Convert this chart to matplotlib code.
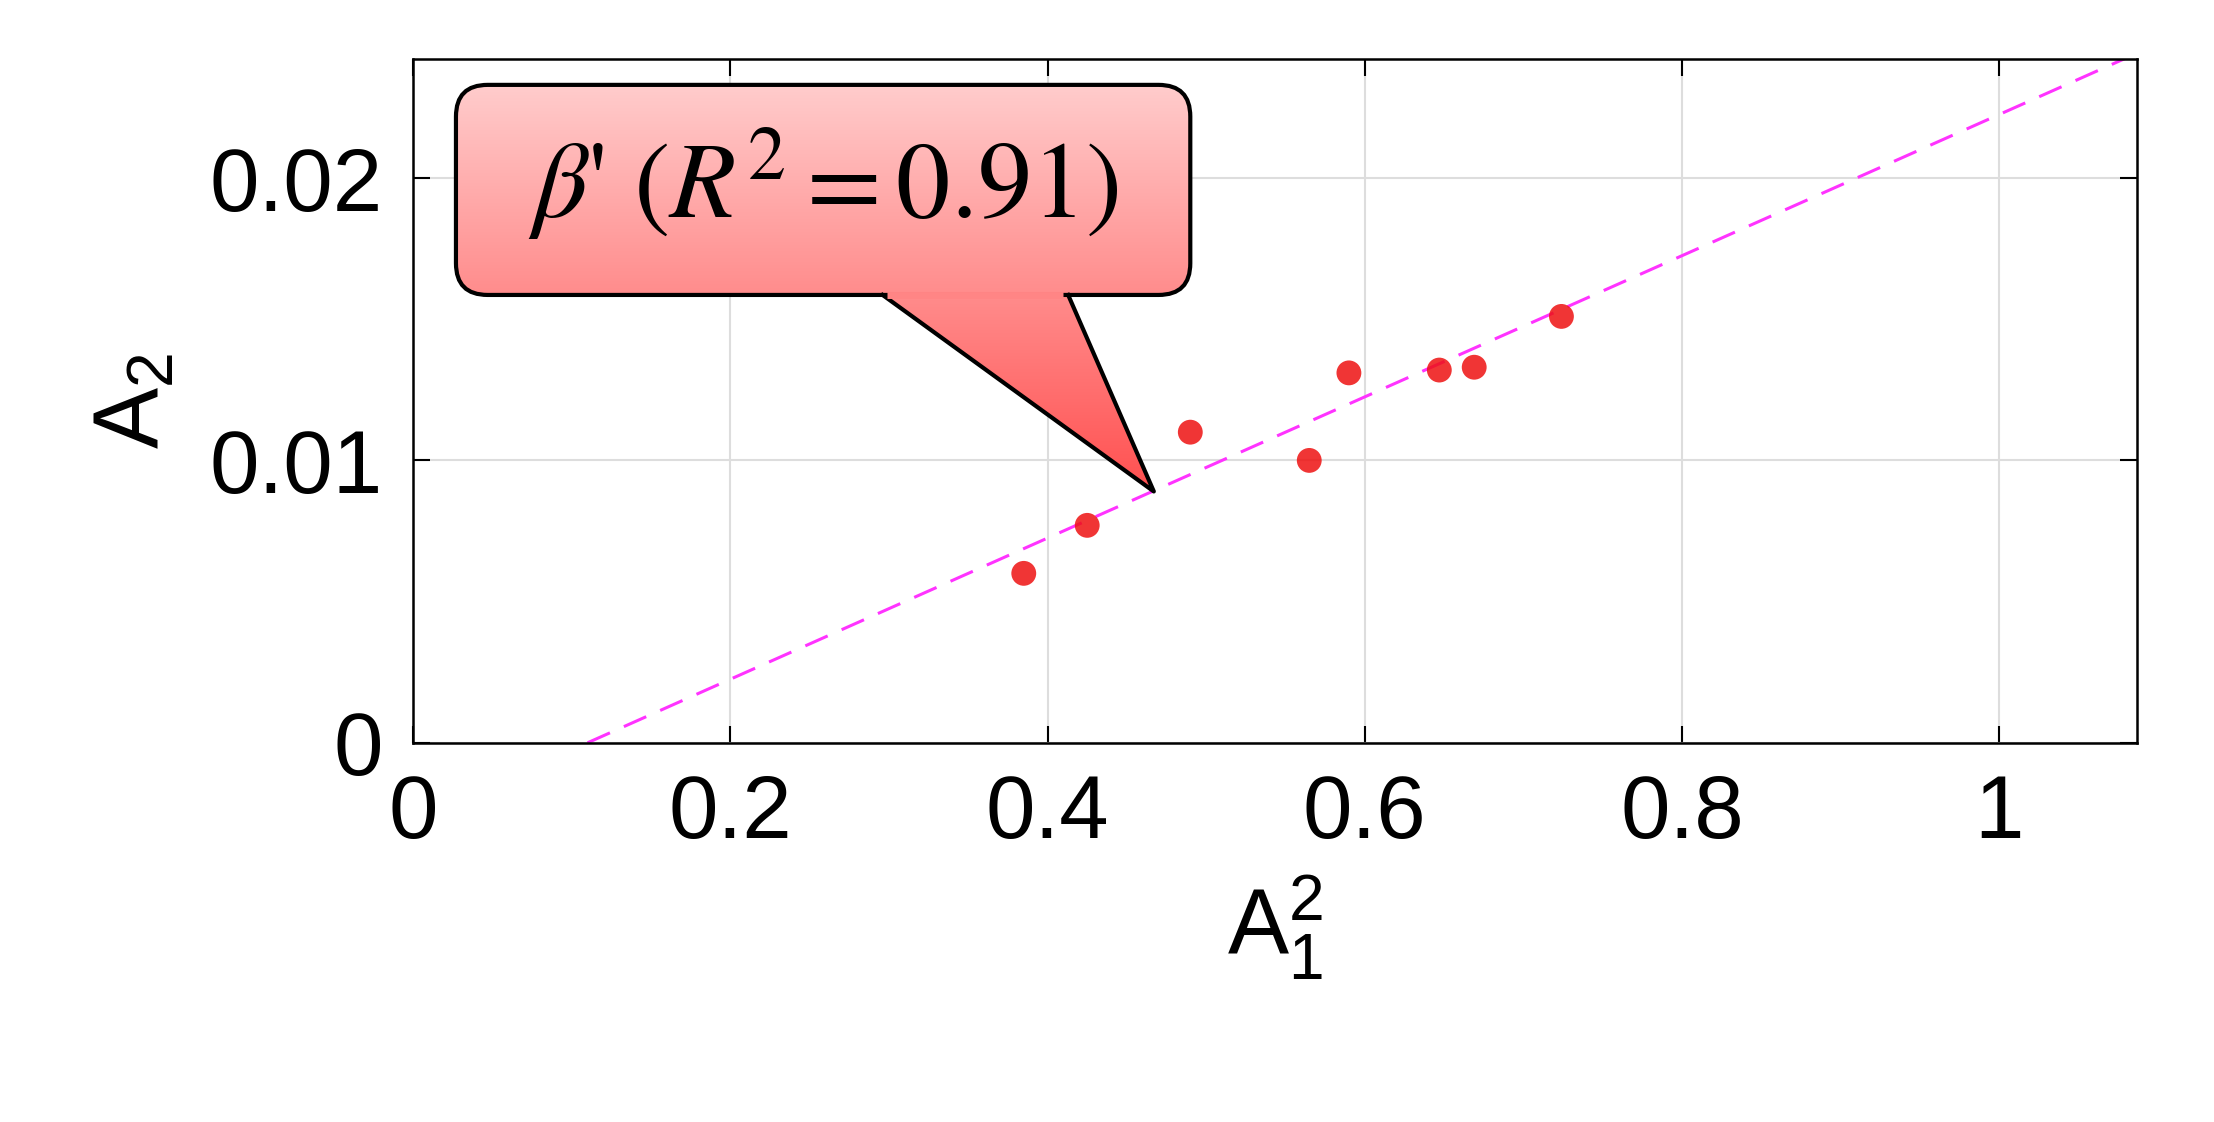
import numpy as np
import matplotlib.pyplot as plt
from matplotlib.patches import FancyBboxPatch, Polygon
from matplotlib.colors import LinearSegmentedColormap

# data
a1_sq = [0.385, 0.425, 0.490, 0.565, 0.590, 0.647, 0.669, 0.724]
a2 = [0.0060, 0.0077, 0.0110, 0.0100, 0.0131, 0.0132, 0.0133, 0.0151]
fit_x = [0.11, 1.09]
fit_y = [0.0, 0.0245]
label = r"$\beta$' $\left(R^2=0.91\right)$"

plt.rcParams['font.family'] = ['Liberation Sans', 'DejaVu Sans']
plt.rcParams['mathtext.fontset'] = 'custom'
plt.rcParams['mathtext.rm'] = 'Liberation Sans'
plt.rcParams['mathtext.it'] = 'Liberation Sans'

fig = plt.figure(figsize=(22.14, 11.22), dpi=100)
ax = fig.add_axes([0.1866, 0.338, 0.7787, 0.609])

ax.plot(fit_x, fit_y, '--', color='#ff33ff', lw=2.2, dashes=(8, 5), zorder=2)
ax.scatter(a1_sq, a2, s=320, color='#ee1111', alpha=0.85, edgecolors='none', zorder=3)

xmax, ymax = 1.087, 0.0242
ax.set_xlim(0, xmax)
ax.set_ylim(0, ymax)
ax.set_xticks([0, 0.2, 0.4, 0.6, 0.8, 1])
ax.set_xticklabels(['0', '0.2', '0.4', '0.6', '0.8', '1'])
ax.set_yticks([0, 0.01, 0.02])
ax.set_yticklabels(['0', '0.01', '0.02'])
ax.grid(True, color='#dddddd', lw=1.5)
ax.set_axisbelow(True)
ax.tick_params(direction='in', length=12, width=1.5, labelsize=64, top=True, right=True, pad=22)
for s in ax.spines.values():
    s.set_linewidth(1.8)
ax.set_xlabel(r'A$_1^2$', fontsize=66, labelpad=12)
ax.set_ylabel(r'A$_2$', fontsize=66, labelpad=22)

# callout with gradient fill
x0, x1, y0, y1 = 0.027, 0.49, 0.01586, 0.0233
aspect = ymax / xmax * (22.14 * 0.7787) / (11.22 * 0.609)
box = FancyBboxPatch((x0, y0), x1 - x0, y1 - y0,
                     boxstyle='round,pad=0,rounding_size=0.02',
                     mutation_aspect=aspect,
                     facecolor='none', edgecolor='black', lw=3, zorder=7)
ax.add_patch(box)
tail_pts = [(0.296, y0 + 0.00005), (0.467, 0.0089), (0.413, y0 + 0.00005)]
tail = Polygon(tail_pts, closed=True, facecolor='none', edgecolor='none', zorder=6)
ax.add_patch(tail)
grad = np.linspace(0, 1, 256).reshape(-1, 1)
cmap = LinearSegmentedColormap.from_list('c', ['#ff5050', '#ffcccc'])
clip_box = FancyBboxPatch((x0, y0), x1 - x0, y1 - y0,
                          boxstyle='round,pad=0,rounding_size=0.02',
                          mutation_aspect=aspect, facecolor='none', edgecolor='none')
ax.add_patch(clip_box)
for p in (clip_box, tail):
    im = ax.imshow(grad, extent=[x0, x1, 0.0089, y1], origin='lower', cmap=cmap,
                   aspect='auto', zorder=5, vmin=0, vmax=1)
    im.set_clip_path(p)
# tail outline: two sides only, then hide the box edge between them
ax.plot([tail_pts[0][0], tail_pts[1][0], tail_pts[2][0]],
        [y0, tail_pts[1][1], y0], color='black', lw=3, zorder=8)
ax.plot([0.299, 0.410], [y0, y0], color='#ff8585', lw=5, zorder=8, solid_capstyle='butt')
ax.set_xlim(0, xmax)
ax.set_ylim(0, ymax)

ax.text((x0 + x1) / 2, (y0 + y1) / 2 + 0.0002, label, fontsize=78, ha='center', va='center',
        zorder=9, family='STIXGeneral', math_fontfamily='stix')

fig.savefig('out.png', dpi=100)
